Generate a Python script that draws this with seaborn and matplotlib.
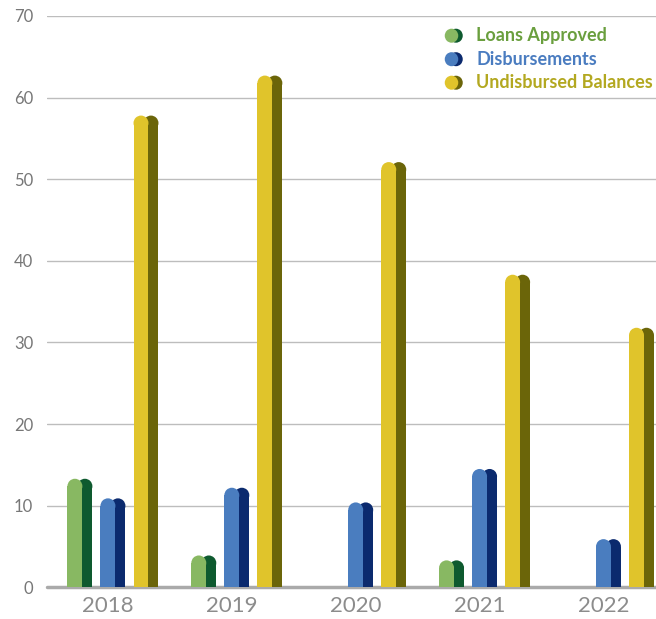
import numpy as np
import pandas as pd
import matplotlib
matplotlib.use('Agg')
import matplotlib.pyplot as plt
from matplotlib.patches import Ellipse
import seaborn as sns

# --- DATOS ---
years = ['2018', '2019', '2020', '2021', '2022']
series = ['Loans Approved', 'Disbursements', 'Undisbursed Balances']
loans_approved = [13.3, 3.9, 0.0, 3.3, 0.0]
disbursements = [10.9, 12.2, 10.4, 14.5, 5.9]
undisbursed = [57.8, 62.7, 52.1, 38.3, 31.8]

front_colors = ['#88b862', '#4a7dbf', '#e0c42b']
back_colors = ['#0e5a2f', '#0b2a6e', '#6b6509']
text_colors = ['#6a9f3e', '#4a7cc0', '#b3a820']

# --- FIGURA ---
W, H, DPI = 656, 619, 100
sns.set_theme(style='white')
plt.rcParams['font.family'] = ['Lato', 'DejaVu Sans']

fig = plt.figure(figsize=(W / DPI, H / DPI), dpi=DPI)
ax_left, ax_bottom, ax_top = 47 / W, 1 - 587.3 / H, 1 - 16 / H
ax = fig.add_axes([ax_left, ax_bottom, 1 - ax_left, ax_top - ax_bottom])

df = pd.DataFrame({
    'year': np.repeat(years, 3),
    'series': series * len(years),
    'value': np.ravel(np.column_stack([loans_approved, disbursements, undisbursed])),
})

xlim = (-0.492, 4.424)
ylim = (0, 70)
px_x = (W - 47) / (xlim[1] - xlim[0])
px_y = (ax_top - ax_bottom) * H / (ylim[1] - ylim[0])
bar_w_px = 15
r_y = (bar_w_px / 2) / px_y      # radio del tope redondeado en unidades de datos
shift = 10 / px_x                 # desplazamiento de la barra oscura

# la barra se dibuja hasta value - r_y y el tope redondeado completa el valor
df['body'] = (df['value'] - r_y).clip(lower=0)

kw = dict(data=df, x='year', y='body', hue='series', hue_order=series,
          order=years, width=0.8, gap=0.547, legend=False, errorbar=None,
          saturation=1, ax=ax, zorder=3)

# barras oscuras (sombra)
sns.barplot(palette=back_colors, **kw)
n_back = len(ax.patches)
for p in ax.patches:
    p.set_x(p.get_x() + shift)
    p.set_linewidth(0)

# barras claras (frente)
sns.barplot(palette=front_colors, **kw)
for p in ax.patches[n_back:]:
    p.set_linewidth(0)
    p.set_zorder(4)

# topes redondeados
for i, p in enumerate(list(ax.patches)):
    h = p.get_height()
    if h <= 0:
        continue
    cx = p.get_x() + p.get_width() / 2
    e = Ellipse((cx, h), p.get_width(), 2 * r_y, facecolor=p.get_facecolor(),
                edgecolor='none', zorder=p.get_zorder())
    ax.add_patch(e)

ax.set_xlim(*xlim)
ax.set_ylim(*ylim)
ax.set_yticks(range(0, 71, 10))
ax.grid(axis='y', color='#bdbdbd', linewidth=1, zorder=0)
ax.grid(axis='x', visible=False)
ax.axhline(0, color='#aaaaaa', linewidth=2.5, zorder=2, clip_on=False)
for s in ax.spines.values():
    s.set_visible(False)
ax.set_xlabel('')
ax.set_ylabel('')
ax.tick_params(axis='y', labelsize=12, labelcolor='#777777', length=0, pad=10)
ax.tick_params(axis='x', labelsize=16, labelcolor='#8c8c8c', length=0, pad=6)

# --- LEYENDA ---
for i, name in enumerate(series):
    y = 1 - (35.7 + i * 23.5) / H
    fig.patches.append(Ellipse((456 / W, y), 13.5 / W, 14 / H, transform=fig.transFigure,
                               facecolor=back_colors[i], edgecolor='none'))
    fig.patches.append(Ellipse((451.5 / W, y), 13.5 / W, 14 / H, transform=fig.transFigure,
                               facecolor=front_colors[i], edgecolor='none'))
    fig.text(476 / W, y, name, color=text_colors[i], fontsize=13, fontweight='bold',
             va='center', ha='left')

fig.savefig('out.png', dpi=DPI)
